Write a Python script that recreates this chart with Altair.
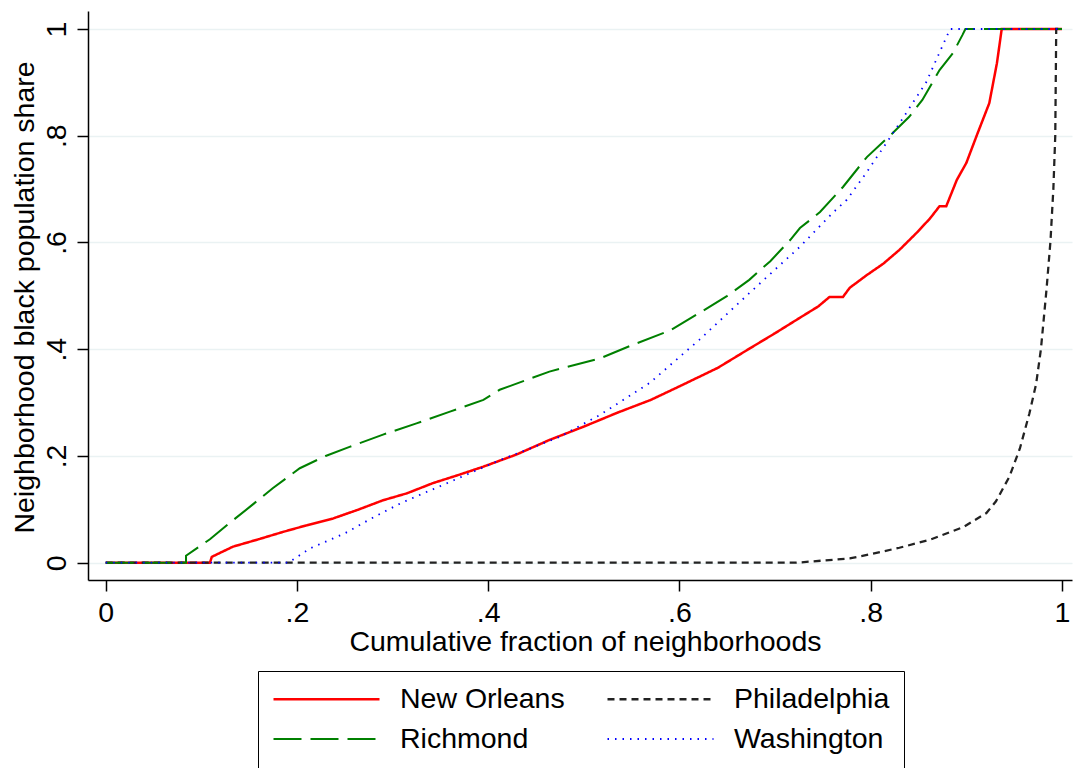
import altair as alt
import pandas as pd

# ---- data ----
cities = ["New Orleans", "Philadelphia", "Richmond", "Washington"]

no_x = [0.0, 0.109, 0.111, 0.133, 0.16, 0.186, 0.21, 0.238, 0.265, 0.29, 0.315, 0.342, 0.37, 0.395,
        0.43, 0.464, 0.5, 0.535, 0.57, 0.603, 0.64, 0.674, 0.7, 0.726, 0.745, 0.757, 0.771, 0.778,
        0.796, 0.813, 0.83, 0.848, 0.862, 0.872, 0.879, 0.89, 0.9, 0.911, 0.924, 0.932, 0.937, 1.0]
no_y = [0.0, 0.0, 0.011, 0.03, 0.044, 0.058, 0.07, 0.083, 0.1, 0.117, 0.13, 0.149, 0.165, 0.18,
        0.203, 0.23, 0.255, 0.281, 0.305, 0.333, 0.365, 0.402, 0.43, 0.459, 0.48, 0.498, 0.498, 0.515,
        0.539, 0.56, 0.586, 0.618, 0.645, 0.668, 0.668, 0.717, 0.749, 0.801, 0.861, 0.936, 1.0, 1.0]

ph_x = [0.0, 0.722, 0.778, 0.8, 0.83, 0.862, 0.897, 0.921, 0.931, 0.945, 0.956, 0.966, 0.973,
        0.978, 0.984, 0.988, 0.991, 0.993, 0.994, 1.0]
ph_y = [0.0, 0.0, 0.008, 0.016, 0.028, 0.043, 0.067, 0.093, 0.115, 0.161, 0.214, 0.28, 0.335,
        0.4, 0.515, 0.603, 0.7, 0.8, 1.0, 1.0]

ri_x = [0.0, 0.084, 0.084, 0.109, 0.13, 0.151, 0.175, 0.203, 0.23, 0.255, 0.29, 0.325, 0.36, 0.395,
        0.412, 0.464, 0.517, 0.551, 0.59, 0.621, 0.65, 0.673, 0.695, 0.716, 0.726, 0.747, 0.771,
        0.796, 0.823, 0.84, 0.854, 0.872, 0.886, 0.896, 0.899, 1.0]
ri_y = [0.0, 0.0, 0.013, 0.044, 0.075, 0.105, 0.14, 0.177, 0.2, 0.217, 0.24, 0.261, 0.283, 0.305,
        0.324, 0.358, 0.383, 0.408, 0.435, 0.468, 0.5, 0.53, 0.565, 0.605, 0.627, 0.657, 0.704,
        0.76, 0.805, 0.835, 0.867, 0.923, 0.955, 0.989, 1.0, 1.0]

wa_x = [0.0, 0.191, 0.214, 0.25, 0.28, 0.308, 0.412, 0.475, 0.517, 0.569, 0.621, 0.673, 0.726,
        0.76, 0.775, 0.796, 0.83, 0.858, 0.883, 1.0]
wa_y = [0.0, 0.0, 0.027, 0.055, 0.085, 0.111, 0.192, 0.236, 0.277, 0.337, 0.418, 0.505, 0.592,
        0.655, 0.68, 0.732, 0.823, 0.9, 1.0, 1.0]

tick_values = [0, 0.2, 0.4, 0.6, 0.8, 1]

colors = ["#ff0000", "#222222", "#008000", "#0000ff"]
dashes = [[1, 0], [7, 5], [28, 9], [1.5, 6]]
widths = [2.5, 1.8, 2.0, 1.3]

rows = []
for name, xs, ys in [("New Orleans", no_x, no_y), ("Philadelphia", ph_x, ph_y),
                     ("Richmond", ri_x, ri_y), ("Washington", wa_x, wa_y)]:
    for i, (x, y) in enumerate(zip(xs, ys)):
        rows.append({"city": name, "frac": x, "share": y, "order": i})
df = pd.DataFrame(rows)

FONT = "Liberation Sans"
FS = 28.5
label_expr = "replace(format(datum.value, '.1~f'), '0.', '.')"

leg = alt.Legend(
    title=None, orient="none", legendX=170, legendY=660, columns=2, direction="horizontal",
    symbolType="stroke", symbolSize=11236, clipHeight=28, labelFontSize=FS, labelFont=FONT,
    labelColor="black", labelOffset=19, columnPadding=41, rowPadding=11,
    padding=14, strokeColor="black", labelLimit=400,
)

chart = alt.Chart(df).mark_line(strokeCap="butt", clip=True).encode(
    x=alt.X("frac:Q",
            scale=alt.Scale(domain=[-0.0185, 1.0105], nice=False, zero=False),
            axis=alt.Axis(values=tick_values, labelExpr=label_expr,
                          title="Cumulative fraction of neighborhoods",
                          grid=False, labelPadding=7, labelBaseline="top",
                          titleX=497, titleY=70, titleAlign="center",
                          titleBaseline="alphabetic")),
    y=alt.Y("share:Q",
            scale=alt.Scale(domain=[-0.0324, 1.0337], nice=False, zero=False),
            axis=alt.Axis(values=tick_values, labelExpr=label_expr,
                          title="Neighborhood black population share",
                          grid=True, gridColor="#eaf2f3", gridWidth=1.5,
                          labelAngle=270, labelAlign="center",
                          labelBaseline="alphabetic", labelPadding=12,
                          titleAngle=270, titleX=-55, titleY=286,
                          titleAlign="center", titleBaseline="alphabetic")),
    color=alt.Color("city:N", scale=alt.Scale(domain=cities, range=colors), legend=leg),
    strokeDash=alt.StrokeDash("city:N", scale=alt.Scale(domain=cities, range=dashes), legend=leg),
    strokeWidth=alt.StrokeWidth("city:N", scale=alt.Scale(domain=cities, range=widths), legend=leg),
    order=alt.Order("order:Q"),
).properties(
    width=984, height=569,
    autosize=alt.AutoSizeParams(type="none"),
    padding={"left": 88, "top": 11, "right": 2, "bottom": 188},
    background="white",
).configure_view(stroke=None).configure_axis(
    domainColor="black", domainWidth=1.5, tickColor="black", tickWidth=1.5, tickSize=11,
    labelFont=FONT, labelFontSize=FS, labelColor="black",
    titleFont=FONT, titleFontSize=FS, titleFontWeight="normal", titleColor="black",
)

chart.save("out.html", embed_options={"renderer": "svg", "actions": False})
